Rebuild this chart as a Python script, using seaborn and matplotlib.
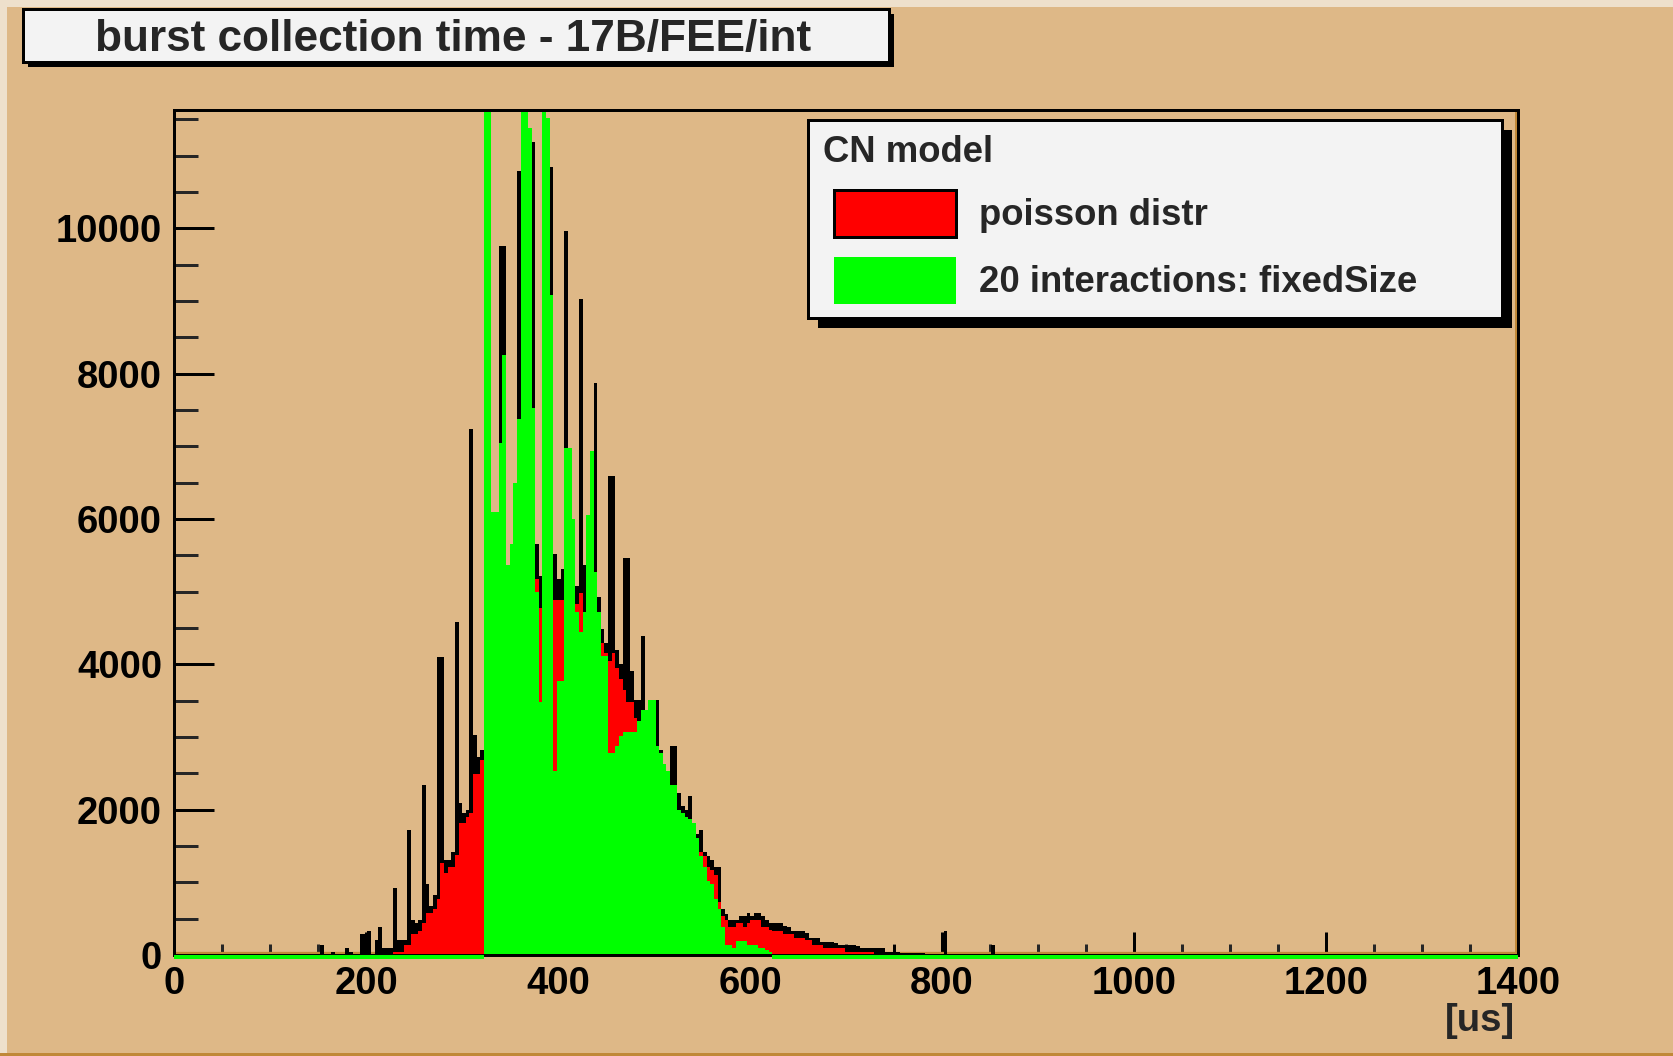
import numpy as np
import matplotlib
matplotlib.use("Agg")
import matplotlib.pyplot as plt
import matplotlib.transforms as mtransforms
from matplotlib.patches import Rectangle, Patch
from matplotlib.legend_handler import HandlerPatch
from matplotlib.ticker import MultipleLocator, FuncFormatter
import seaborn as sns

# histogram contents, 3.8 us bins
BIN_WIDTH = 3.8

black_start = 152.0
black_counts = [
    138, 0, 0, 46, 0, 0, 0, 100, 46, 0,
    0, 290, 290, 330, 0, 200, 387, 100, 100, 100,
    926, 200, 200, 200, 1715, 484, 438, 484, 2337, 982,
    677, 830, 4100, 4100, 1314, 1314, 1424, 4578, 2088, 1950,
    1991, 7233, 3028, 2720, 2821, 3000, 3500, 5000, 5500, 9764,
    9764, 5000, 5200, 6000, 10787, 8000, 9000, 10000, 11188, 5656,
    5210, 8000, 9000, 10843, 5518, 5172, 5311, 9958, 6000, 5500,
    5080, 9031, 5371, 5000, 5500, 7869, 4923, 4481, 4300, 6592,
    6592, 4204, 4011, 5463, 5463, 3914, 3513, 3513, 4384, 3300,
    3400, 3400, 3513, 2821, 2600, 2500, 2876, 2876, 2235, 2047,
    1991, 2185, 1800, 1659, 1715, 1424, 1369, 1314, 1217, 1217,
    636, 560, 484, 484, 484, 539, 539, 580, 539, 580,
    580, 539, 484, 438, 438, 438, 438, 400, 387, 330,
    330, 330, 330, 300, 240, 240, 240, 184, 184, 184,
    184, 160, 138, 138, 138, 138, 138, 120, 100, 100,
    100, 100, 100, 100, 100, 46, 46, 138, 46, 32,
    32, 32, 32, 32, 32, 32, 0, 0, 0, 0,
    0, 330, 0, 0, 0, 0, 0, 0, 0, 0,
    0, 0, 0, 0, 138,
]

red_start = 228.0
red_counts = [
    46, 46, 46, 138, 138, 290, 290, 330, 438, 580,
    580, 636, 775, 1268, 1130, 1217, 1217, 1374, 1812, 1812,
    1900, 1950, 2489, 2489, 2683, 2900, 3100, 3300, 3500, 3700,
    3900, 4000, 4100, 4200, 4300, 4400, 4500, 4600, 4700, 5177,
    4771, 4800, 4850, 4880, 4886, 4886, 4886, 4850, 4850, 4850,
    4827, 4979, 4700, 4600, 4500, 4400, 4400, 4301, 4150, 4050,
    4150, 3950, 3803, 3650, 3480, 3480, 3259, 3200, 3200, 3200,
    3150, 3100, 2850, 2750, 2600, 2500, 2300, 2300, 1990, 1940,
    1890, 1860, 1800, 1600, 1424, 1369, 1217, 1170, 1100, 733,
    539, 480, 392, 392, 442, 442, 392, 442, 484, 484,
    484, 392, 392, 346, 330, 330, 330, 290, 290, 290,
    230, 230, 230, 200, 200, 138, 138, 138, 100, 100,
    100, 100, 100, 100, 46, 46, 46, 46, 46, 46,
    46, 46,
]

green_start = 323.0
green_counts = [
    12500, 12500, 6099, 6099, 7040, 8257, 5366, 5656, 6500, 7372,
    12300, 12300, 11382, 7524, 5000, 3480, 12300, 11520, 9086, 2535,
    3766, 3766, 6984, 6984, 6002, 4725, 4439, 4725, 6058, 6938,
    5269, 4725, 4112, 4112, 2780, 2780, 2881, 3020, 3075, 3075,
    3075, 3075, 3227, 3374, 3374, 3513, 3513, 2881, 2780, 2628,
    2531, 2337, 2337, 1991, 1950, 1895, 1867, 1812, 1613, 1369,
    1217, 1023, 977, 775, 636, 387, 138, 138, 92, 198,
    198, 198, 138, 138, 138, 101, 101, 69, 46,
]

x_range = (0, 1400)
y_top = 11630
title = "burst collection time - 17B/FEE/int"
legend_title = "CN model"
legend_labels = ["poisson distr", "20 interactions: fixedSize"]
x_unit = "[us]"

TAN = "#DEB887"
PANEL = "#F3F3F3"
ORANGE = "#C08838"
RED = "#FF0000"
GREEN = "#00FF00"
PX = 0.72  # points per pixel at dpi 100

sns.set_style("ticks")
plt.rcParams["font.family"] = ["Liberation Sans", "DejaVu Sans"]
plt.rcParams["font.weight"] = "bold"

W, H = 1673, 1056
fig = plt.figure(figsize=(W / 100, H / 100), dpi=100, facecolor=TAN)
ax = fig.add_axes([174 / W, 1 - 955 / H, (1518 - 174) / W, (955 - 110) / H])
ax.set_facecolor(TAN)


def edges_for(start, counts):
    return start + BIN_WIDTH * np.arange(len(counts) + 1)


# zero level line of the frame (orange bevel)
ax.plot([0, 1], [0, 0], color=ORANGE, lw=3.3 * PX, zorder=0.8, solid_capstyle="butt",
        transform=mtransforms.offset_copy(ax.get_yaxis_transform(), fig=fig, y=1.8 * PX, units="points"))
ax.plot([1, 1], [0, 1], color=ORANGE, lw=3 * PX, zorder=0.8,
        transform=mtransforms.offset_copy(ax.transAxes, fig=fig, x=-2.5 * PX, units="points"))

for start, counts, col in [(black_start, black_counts, "black"),
                           (red_start, red_counts, RED),
                           (green_start, green_counts, GREEN)]:
    e = edges_for(start, counts)
    centers = (e[:-1] + e[1:]) / 2
    sns.histplot(x=centers, weights=np.asarray(counts, float), bins=e.tolist(),
                 element="step", fill=True, color=col, alpha=1, linewidth=0, ax=ax)

# green histogram outline at zero level where it is empty
g_edges = edges_for(green_start, green_counts)
ax.hlines([0, 0], [x_range[0], g_edges[-1]], [g_edges[0], x_range[1]], colors=GREEN,
          lw=4 * PX, clip_on=False, zorder=3,
          transform=mtransforms.offset_copy(ax.transData, fig=fig, y=-1.5 * PX, units="points"))

ax.set_xlim(*x_range)
ax.set_ylim(0, y_top)
ax.set_ylabel("")

for side in ["left", "right", "top", "bottom"]:
    ax.spines[side].set_visible(True)
    ax.spines[side].set_linewidth(3 * PX)
    ax.spines[side].set_color("black")

ax.xaxis.set_major_locator(MultipleLocator(200))
ax.xaxis.set_minor_locator(MultipleLocator(50))
ax.yaxis.set_major_locator(MultipleLocator(2000))
ax.yaxis.set_minor_locator(MultipleLocator(500))
fmt = FuncFormatter(lambda v, p: f"{v:.0f}")
ax.xaxis.set_major_formatter(fmt)
ax.yaxis.set_major_formatter(fmt)

ax.tick_params(axis="x", which="major", direction="in", length=23 * PX, width=3 * PX,
               labelsize=27.5, pad=11 * PX, top=False, colors="black")
ax.tick_params(axis="x", which="minor", direction="in", length=11 * PX, width=3 * PX, top=False)
ax.tick_params(axis="y", which="major", direction="in", length=40 * PX, width=3 * PX,
               labelsize=27.5, pad=12 * PX, right=False, colors="black")
ax.tick_params(axis="y", which="minor", direction="in", length=24 * PX, width=3 * PX, right=False)

ax.set_xlabel(x_unit, fontsize=27.5, fontweight="bold")
ax.xaxis.set_label_coords((1515 - 174) / (1518 - 174), (35 - 101) / 845)
ax.xaxis.label.set_ha("right")
ax.xaxis.label.set_va("center")


# legend boxes sit a little to the right of the legend title
def shifted_box(legend, orig_handle, xdescent, ydescent, width, height, fontsize):
    shift = 11 * PX
    return Rectangle((-xdescent + shift, -ydescent), width - shift, height)


handles = [Patch(facecolor=RED, edgecolor="black", linewidth=3 * PX),
           Patch(facecolor=GREEN, edgecolor="none")]
leg = ax.legend(handles, legend_labels, title=legend_title, loc="upper left",
                bbox_to_anchor=(808 / W, 1 - 309 / H, (1502 - 808) / W, (309 - 120) / H),
                bbox_transform=fig.transFigure, mode="expand", borderaxespad=0,
                fontsize=26.3, title_fontsize=26.3, alignment="left",
                handlelength=3.64, handleheight=1.6, handletextpad=0.64,
                labelspacing=0.55, borderpad=0.4, fancybox=False, framealpha=1,
                handler_map={Patch: HandlerPatch(patch_func=shifted_box)})
leg.get_frame().set_facecolor(PANEL)
leg.get_frame().set_edgecolor("black")
leg.get_frame().set_linewidth(3 * PX)
leg.set_zorder(6)

# title box with shadow (figure pixels, origin bottom-left)
tb_x0, tb_x1, tb_top, tb_bot = 23, 889, 9, 62
fig.add_artist(Rectangle((tb_x0 + 5, H - tb_bot - 5), tb_x1 - tb_x0, tb_bot - tb_top,
                         transform=mtransforms.IdentityTransform(), facecolor="black",
                         edgecolor="none", zorder=1))
fig.add_artist(Rectangle((tb_x0, H - tb_bot), tb_x1 - tb_x0, tb_bot - tb_top,
                         transform=mtransforms.IdentityTransform(), facecolor=PANEL,
                         edgecolor="black", linewidth=3 * PX, zorder=2))
fig.text(453 / W, 1 - 40 / H, title, ha="center", va="center", fontsize=31.8,
         fontweight="bold", zorder=3)

# canvas bevel
fig.add_artist(Rectangle((0, 0), 7, H, transform=mtransforms.IdentityTransform(),
                         facecolor="#EEE0CC", edgecolor="none", zorder=0.5))
fig.add_artist(Rectangle((0, H - 7), W, 7, transform=mtransforms.IdentityTransform(),
                         facecolor="#EEE0CC", edgecolor="none", zorder=0.5))
fig.add_artist(Rectangle((0, 0), W, 3, transform=mtransforms.IdentityTransform(),
                         facecolor=ORANGE, edgecolor="none", zorder=0.5))

# legend drop shadow
fig.canvas.draw()
bb = leg.get_window_extent(fig.canvas.get_renderer())
ax.add_artist(Rectangle((bb.x0 + 10, bb.y0 - 10), bb.width, bb.height,
                        transform=mtransforms.IdentityTransform(), facecolor="black",
                        edgecolor="none", zorder=5.5, clip_on=False))

fig.savefig("out.png", dpi=100, facecolor=TAN)
